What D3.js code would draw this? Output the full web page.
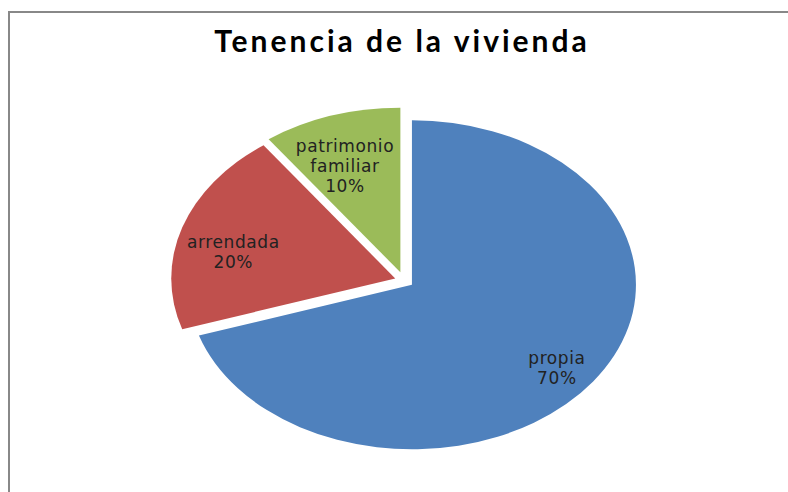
<!DOCTYPE html>
<html>
<head>
<meta charset="utf-8">
<script src="https://cdn.jsdelivr.net/npm/d3@7.9.0/dist/d3.min.js"></script>
<style>
  html, body { margin: 0; padding: 0; background: #fff; }
  svg { display: block; }
</style>
</head>
<body>
<svg id="chart" width="788" height="492"></svg>
<script>
// data
const categories = ['propia', 'arrendada', 'patrimonio familiar'];
const values = [70, 20, 10];
const colors = ['#4F81BD', '#C0504D', '#9BBB59'];
const title = 'Tenencia de la vivienda';

const width = 788;
const height = 492;
const cx = 404, cy = 280.5;   // pie centre
const rx = 224, ry = 164.5;   // ellipse radii
const explode = 9;

// label placement factors (x, y) along each slice's bisector
const labelK = [[0.80, 0.86], [0.76, 0.52], [0.80, 0.68]];

const svg = d3.select('#chart');

// chart frame
svg.append('rect')
  .attr('x', 9).attr('y', 12)
  .attr('width', 800).attr('height', 500)
  .attr('fill', 'none')
  .attr('stroke', '#888')
  .attr('stroke-width', 2);

svg.append('text')
  .attr('x', 402)
  .attr('y', 52)
  .attr('text-anchor', 'middle')
  .attr('font-family', 'Lato, "Open Sans", sans-serif')
  .attr('font-weight', 'bold')
  .attr('font-size', 30)
  .attr('letter-spacing', 3)
  .attr('fill', '#000')
  .text(title);

const pie = d3.pie().sort(null).value(d => d)(values);
const arc = d3.arc().innerRadius(0).outerRadius(1);

const g = svg.append('g');

pie.forEach((d, i) => {
  const mid = (d.startAngle + d.endAngle) / 2;
  const ex = Math.sin(mid) * rx, ey = -Math.cos(mid) * ry;
  const len = Math.hypot(ex, ey);
  const ox = cx + explode * ex / len;
  const oy = cy + explode * ey / len;

  g.append('path')
    .attr('d', arc(d))
    .attr('transform', `translate(${ox},${oy}) scale(${rx},${ry})`)
    .attr('fill', colors[i]);

  const lx = ox + Math.sin(mid) * rx * labelK[i][0];
  const ly = oy - Math.cos(mid) * ry * labelK[i][1];
  const lines = categories[i].split(' ').concat([values[i] + '%']);
  const t = g.append('text')
    .attr('text-anchor', 'middle')
    .attr('font-family', '"DejaVu Sans", Verdana, sans-serif')
    .attr('font-size', 17)
    .attr('letter-spacing', 0.6)
    .attr('fill', '#222');
  lines.forEach((s, j) => {
    t.append('tspan')
      .attr('x', lx)
      .attr('y', ly + (j - (lines.length - 1) / 2) * 20 + 6)
      .text(s);
  });
});
</script>
</body>
</html>
